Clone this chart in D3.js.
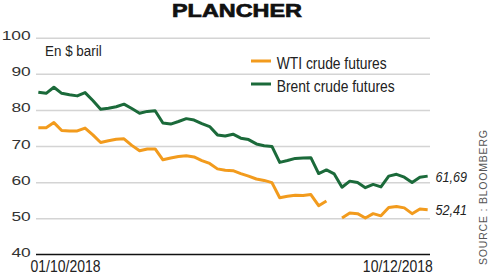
<!DOCTYPE html>
<meta charset="utf-8">
<title>plancher</title>
<script src="https://cdn.jsdelivr.net/npm/d3@7/dist/d3.min.js"></script>
<style>
body { margin: 0; background: #fff; }
text { font-family: "Liberation Sans", Arial, sans-serif; fill: #222; }
.grid line { stroke: #d4d4d4; stroke-width: 1.5px; }
.grid path { display: none; }
.line { fill: none; stroke-width: 3px; stroke-linejoin: round; }
</style>
<body>
<script>

// trading days, 01/10/2018 -> 10/12/2018
var days = d3.timeDay.range(new Date(2018, 9, 1), new Date(2018, 11, 11))
  .filter(function(d){ return d.getDay() != 0 && d.getDay() != 6; });

var brent = [84.9, 84.6, 86.3, 84.6, 84.2, 83.9, 84.8, 82.6, 80.2, 80.5,
  80.9, 81.6, 80.4, 79.1, 79.6, 79.8, 76.4, 76.1, 76.8, 77.6,
  77.2, 76.2, 75.4, 73.1, 72.8, 73.3, 72.2, 71.8, 70.6, 70.1,
  69.9, 65.5, 66.0, 66.6, 66.7, 66.8, 62.4, 63.4, 62.3, 58.6,
  60.3, 59.9, 58.5, 59.4, 58.7, 61.7, 62.2, 61.4, 59.9, 61.4, 61.69];

var wti = [75.1, 75.1, 76.5, 74.3, 74.2, 74.2, 75.0, 73.1, 71.0, 71.5,
  71.9, 72.0, 70.2, 68.7, 69.2, 69.2, 66.2, 66.7, 67.1, 67.3,
  67.0, 66.0, 65.2, 63.7, 63.3, 63.2, 62.4, 61.7, 60.9, 60.5,
  59.9, 55.7, 56.1, 56.4, 56.3, 56.6, 53.5, 54.8, null, 50.1,
  51.5, 51.3, 50.1, 51.3, 50.7, 53.0, 53.3, 52.9, 51.3, 52.6, 52.41];

var yTicks = [40, 50, 60, 70, 80, 90, 100];
var dateLabels = ["01/10/2018", "10/12/2018"];
var seriesNames = ["WTI crude futures", "Brent crude futures"];
var lastLabels = ["52,41", "61,69"];

var orange = "#f29b1d", green = "#1b6a3a";

var width = 490, height = 275;
var plotLeft = 36, plotRight = 430, plotTop = 37.7, plotBottom = 254.5;

var svg = d3.select("body").append("svg")
    .attr("width", width)
    .attr("height", height);

var x = d3.scalePoint()
    .domain(d3.range(days.length))
    .range([plotLeft, plotRight])
    .padding(0.3);

var y = d3.scaleLinear()
    .domain([40, 100])
    .range([plotBottom, plotTop]);

// title
svg.append("text")
    .attr("x", 172).attr("y", 17)
    .attr("font-size", "19px")
    .attr("font-weight", "bold")
    .attr("textLength", 130)
    .attr("lengthAdjust", "spacingAndGlyphs")
    .style("fill", "#111")
    .style("stroke", "#111")
    .style("stroke-width", "0.7px")
    .text("PLANCHER");

// grid + y labels
var gy = svg.append("g")
    .attr("class", "grid")
    .attr("transform", "translate(" + plotLeft + ",0)")
    .call(d3.axisRight(y).tickValues(yTicks).tickSize(plotRight - plotLeft).tickFormat(""));
gy.selectAll(".tick").filter(function(d){ return d == 40; }).remove();

svg.selectAll(".ylab")
  .data(yTicks)
  .enter().append("text")
    .attr("class", "ylab")
    .attr("x", 30.7)
    .attr("y", function(d){ return y(d) + 2.5; })
    .attr("text-anchor", "end")
    .attr("font-size", "13.5px")
    .attr("textLength", function(d){ return d >= 100 ? 29 : 19.3; })
    .attr("lengthAdjust", "spacingAndGlyphs")
    .style("fill", "#333")
    .text(function(d){ return d; });

// x axis
var gx = svg.append("g")
    .attr("transform", "translate(0," + plotBottom + ")")
    .call(d3.axisBottom(x).tickValues([0, days.length - 1]).tickSize(0).tickSizeOuter(0)
      .tickFormat(function(d, i){ return dateLabels[i]; }));
gx.select(".domain").attr("stroke", "#111").attr("stroke-width", 1.6)
  .attr("d", "M" + plotLeft + ",0H" + plotRight);
gx.selectAll(".tick text")
    .attr("y", 17.5)
    .attr("dy", 0)
    .attr("font-size", "16px")
    .attr("font-family", "Liberation Sans, Arial, sans-serif")
    .attr("textLength", 70)
    .attr("lengthAdjust", "spacingAndGlyphs")
    .style("fill", "#222")
    .attr("text-anchor", function(d, i){ return i == 0 ? "start" : "end"; })
    .attr("dx", function(d, i){ return i == 0 ? -8.3 : 4.7; });

svg.append("text")
    .attr("x", 45).attr("y", 55.5)
    .attr("font-size", "14px")
    .attr("textLength", 56.7)
    .attr("lengthAdjust", "spacingAndGlyphs")
    .text("En $ baril");

// lines
var line = d3.line()
    .defined(function(d){ return d != null; })
    .x(function(d, i){ return x(i); })
    .y(function(d){ return y(d); });

svg.append("path").datum(brent)
    .attr("class", "line")
    .attr("stroke", green)
    .attr("d", line);

svg.append("path").datum(wti)
    .attr("class", "line")
    .attr("stroke", orange)
    .attr("d", line);

// legend
var legend = svg.selectAll(".legend")
  .data(seriesNames)
  .enter().append("g")
    .attr("class", "legend")
    .attr("transform", function(d, i){ return "translate(251," + (61 + i * 23) + ")"; });
legend.append("line")
    .attr("x1", 0).attr("x2", 20)
    .attr("stroke", function(d, i){ return i == 0 ? orange : green; })
    .attr("stroke-width", 3);
legend.append("text")
    .attr("x", 25.7).attr("y", 7.5)
    .attr("font-size", "16.5px")
    .attr("textLength", function(d, i){ return i == 0 ? 110 : 118; })
    .attr("lengthAdjust", "spacingAndGlyphs")
    .text(function(d){ return d; });

// last values
var lastVals = [wti[wti.length - 1], brent[brent.length - 1]];
svg.selectAll(".last")
  .data(lastVals)
  .enter().append("text")
    .attr("class", "last")
    .attr("x", 435.5)
    .attr("y", function(d){ return y(d) + 5.5; })
    .attr("font-size", "15px")
    .attr("font-style", "italic")
    .attr("textLength", 31.5)
    .attr("lengthAdjust", "spacingAndGlyphs")
    .text(function(d, i){ return lastLabels[i]; });

// source
svg.append("text")
    .attr("transform", "translate(487,265) rotate(-90)")
    .attr("font-size", "10.5px")
    .attr("textLength", 135)
    .attr("lengthAdjust", "spacing")
    .style("fill", "#555")
    .text("SOURCE : BLOOMBERG");

</script>
</body>
